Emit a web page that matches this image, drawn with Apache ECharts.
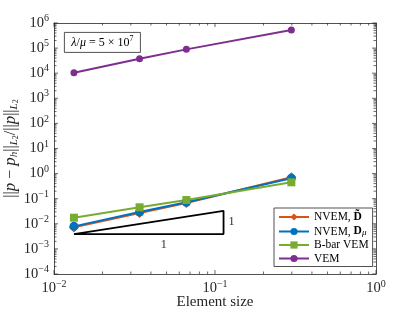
<!DOCTYPE html>
<html><head><meta charset="utf-8">
<script src="https://cdn.jsdelivr.net/npm/echarts@6/dist/echarts.min.js"></script>
<style>html,body{margin:0;padding:0;background:#fff}#c{width:415px;height:312px}</style>
</head><body><div id="c"></div>
<script>
const elementSize = [0.0133, 0.034, 0.0664, 0.298];
const nvemDtilde = [0.0072, 0.027, 0.068, 0.72];
const nvemDmu = [0.0079, 0.0295, 0.072, 0.65];
const bbarVem = [0.0175, 0.0454, 0.0887, 0.45];
const vem = [10500, 38000, 89000, 530000];
const triangleX = [0.0133, 0.113, 0.113, 0.0133];
const triangleY = [0.0039, 0.0039, 0.033, 0.0039];
const xTickValues = [0.01, 0.1, 1];
const yTickValues = [1e-4, 1e-3, 1e-2, 1e-1, 1, 1e1, 1e2, 1e3, 1e4, 1e5, 1e6];

const FONT = 'Liberation Serif';
const AX = '#262626';
const zip = (a, b) => a.map((v, i) => [v, b[i]]);

const xMinor = [], yMinor = [];
for (let e = -2; e < 0; e++) for (let k = 2; k <= 9; k++) xMinor.push(k * Math.pow(10, e));
for (let e = -4; e < 6; e++) for (let k = 2; k <= 9; k++) yMinor.push(k * Math.pow(10, e));

const expFmt = v => {
  const e = Math.round(Math.log10(v));
  return '{b|10}{s|' + (e < 0 ? '\u2212' + (-e) : e) + '}';
};
const tickRich = {
  b: {fontFamily: FONT, fontSize: 14.5, color: AX},
  s: {fontFamily: FONT, fontSize: 10, color: AX, verticalAlign: 'top', padding: [0, 0, 9, 0]}
};

const chart = echarts.init(document.getElementById('c'), null, {renderer: 'canvas'});
const X0 = 0.01, X1 = 1, Y0 = 1e-4, Y1 = 1e6;

const minorSeries = {
  type: 'custom', silent: true, z: 1,
  data: [0],
  renderItem: (params, api) => {
    const ch = [];
    const L = 2.5, LM = 4;
    const st = {stroke: AX, lineWidth: 0.7};
    xMinor.forEach(v => {
      const b = api.coord([v, Y0]), t = api.coord([v, Y1]);
      ch.push({type: 'line', shape: {x1: b[0], y1: b[1], x2: b[0], y2: b[1] - L}, style: st});
      ch.push({type: 'line', shape: {x1: t[0], y1: t[1], x2: t[0], y2: t[1] + L}, style: st});
    });
    yMinor.forEach(v => {
      const l = api.coord([X0, v]), r = api.coord([X1, v]);
      ch.push({type: 'line', shape: {x1: l[0], y1: l[1], x2: l[0] + L, y2: l[1]}, style: st});
      ch.push({type: 'line', shape: {x1: r[0], y1: r[1], x2: r[0] - L, y2: r[1]}, style: st});
    });
    xTickValues.forEach(v => {
      const b = api.coord([v, Y0]), t = api.coord([v, Y1]);
      ch.push({type: 'line', shape: {x1: b[0], y1: b[1], x2: b[0], y2: b[1] - LM}, style: st});
      ch.push({type: 'line', shape: {x1: t[0], y1: t[1], x2: t[0], y2: t[1] + LM}, style: st});
    });
    yTickValues.forEach(v => {
      const l = api.coord([X0, v]), r = api.coord([X1, v]);
      ch.push({type: 'line', shape: {x1: l[0], y1: l[1], x2: l[0] + LM, y2: l[1]}, style: st});
      ch.push({type: 'line', shape: {x1: r[0], y1: r[1], x2: r[0] - LM, y2: r[1]}, style: st});
    });
    return {type: 'group', children: ch};
  }
};

const lineSeries = (name, data, color, symbol, size) => ({
  name, type: 'line', data: zip(elementSize, data), symbol, symbolSize: size,
  lineStyle: {color, width: 2}, itemStyle: {color}, z: 3, animation: false
});

chart.setOption({
  animation: false,
  grid: {left: 54, top: 23, right: 39, bottom: 38, containLabel: false, outerBoundsMode: 'none'},
  xAxis: [{
    type: 'log', logBase: 10, min: X0, max: X1,
    axisLine: {lineStyle: {color: AX, width: 0.8}},
    axisTick: {show: false}, splitLine: {show: false},
    axisLabel: {formatter: expFmt, rich: tickRich, margin: 5},
    name: 'Element size', nameLocation: 'middle', nameGap: 21, nameMoveOverlap: false,
    nameTextStyle: {fontFamily: FONT, fontSize: 15, color: AX}
  }, {
    type: 'log', logBase: 10, min: X0, max: X1, position: 'top',
    axisLine: {show: true, lineStyle: {color: AX, width: 0.8}},
    axisTick: {show: false}, axisLabel: {show: false}, splitLine: {show: false}
  }],
  yAxis: [{
    type: 'log', logBase: 10, min: Y0, max: Y1, splitNumber: 10,
    axisLine: {show: true, lineStyle: {color: AX, width: 0.8}},
    axisTick: {show: false}, splitLine: {show: false},
    axisLabel: {formatter: expFmt, rich: tickRich, margin: 5},
    name: '||{i|p} \u2212 {i|p}{sub|h}||{sub|L}{ss|2}/||{i|p}||{sub|L}{ss|2}',
    nameLocation: 'middle', nameGap: 34, nameRotate: 90, nameMoveOverlap: false,
    nameTextStyle: {
      fontFamily: FONT, fontSize: 16, color: AX,
      rich: {
        i: {fontFamily: FONT, fontStyle: 'italic', fontSize: 17, color: AX},
        sub: {fontFamily: FONT, fontStyle: 'italic', fontSize: 11, color: AX, verticalAlign: 'bottom', padding: [7, 0, 0, 0]},
        ss: {fontFamily: FONT, fontSize: 8, color: AX, verticalAlign: 'bottom', padding: [4, 0, 0, 0]}
      }
    }
  }, {
    type: 'log', logBase: 10, min: Y0, max: Y1, splitNumber: 10, position: 'right',
    axisLine: {show: true, lineStyle: {color: AX, width: 0.8}},
    axisTick: {show: false}, axisLabel: {show: false}, splitLine: {show: false}
  }],
  legend: {
    orient: 'vertical', left: 274, top: 208,
    data: ['NVEM, D\u0303', 'NVEM, D\u03bc', 'B-bar VEM', 'VEM'],
    itemWidth: 30, itemHeight: 9, itemGap: 1.5,
    padding: [3, 4, 2, 4],
    borderColor: AX, borderWidth: 0.8, backgroundColor: '#fff',
    formatter: n => {
      if (n === 'NVEM, D\u0303') return 'NVEM, {bd|D\u0303}';
      if (n === 'NVEM, D\u03bc') return 'NVEM, {bd|D}{sub|\u03bc}';
      return n;
    },
    textStyle: {
      fontFamily: FONT, fontSize: 11.5, color: '#000', lineHeight: 12,
      rich: {
        bd: {fontFamily: FONT, fontSize: 11.5, fontWeight: 'bold', color: '#000', lineHeight: 12},
        sub: {fontFamily: FONT, fontStyle: 'italic', fontSize: 9, color: '#000', lineHeight: 12, verticalAlign: 'bottom', padding: [4, 0, 0, 0]}
      }
    }
  },
  series: [
    minorSeries,
    lineSeries('NVEM, D\u0303', nvemDtilde, '#D95319', 'diamond', 10),
    lineSeries('NVEM, D\u03bc', nvemDmu, '#0072BD', 'circle', 9),
    lineSeries('B-bar VEM', bbarVem, '#77AC30', 'rect', 8),
    lineSeries('VEM', vem, '#7E2F8E', 'circle', 7),
    {
      type: 'line', data: zip(triangleX, triangleY), symbol: 'none', silent: true,
      lineStyle: {color: '#000', width: 1.8}, z: 2
    },
    {
      type: 'scatter', symbolSize: 0, silent: true,
      data: [[Math.sqrt(triangleX[0] * triangleX[1]), triangleY[0]], [triangleX[1], Math.sqrt(triangleY[1] * triangleY[2])]],
      label: {
        show: true, formatter: '1', fontFamily: FONT, fontSize: 13, color: '#000',
        position: 'bottom', distance: 4
      },
      labelLayout: p => p.dataIndex === 1 ? {dx: 8, dy: -11} : {dx: 15}
    }
  ],
  graphic: [{
    type: 'group', left: 64, top: 32,
    children: [
      {type: 'rect', shape: {x: 0, y: 0, width: 76, height: 20}, style: {fill: '#fff', stroke: AX, lineWidth: 0.8}},
      {type: 'text', x: 38, y: 10, style: {
        text: '{i|\u03bb}/{i|\u03bc} = 5 \u00d7 10{s|7}', align: 'center', verticalAlign: 'middle',
        fontFamily: FONT, fontSize: 12, fill: '#000',
        rich: {
          i: {fontFamily: FONT, fontStyle: 'italic', fontSize: 12, fill: '#000'},
          s: {fontFamily: FONT, fontSize: 8, fill: '#000', verticalAlign: 'top', padding: [0, 0, 7, 0]}
        }
      }}
    ]
  }]
});
</script></body></html>
